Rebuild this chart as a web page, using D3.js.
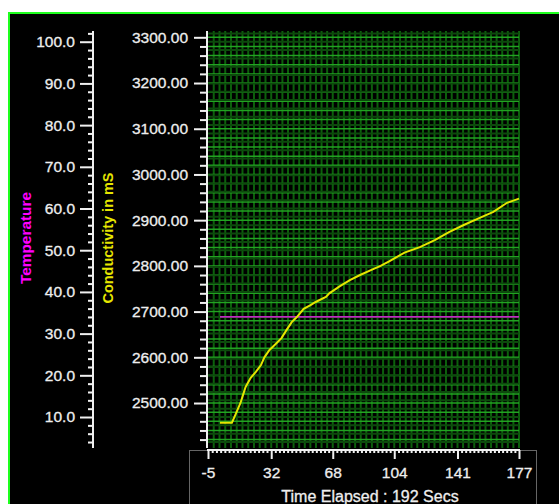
<!DOCTYPE html>
<html>
<head>
  <meta charset="utf-8">
  <script src="https://d3js.org/d3.v7.min.js"></script>
  <style>
    body { margin:0; background:#fff; overflow:hidden; }
    text { font-family: Arial, "Liberation Sans", sans-serif; }
  </style>
</head>
<body>
<script>

// elapsed time (secs) of each reading
const timeSec = [2, 9, 11, 14, 17, 20, 23, 26, 28, 31, 34, 38, 41, 44, 47, 51, 55, 58, 64, 66,
                 72, 78, 84, 90, 96, 101, 110, 119, 128, 136, 145, 154, 162, 170, 177];
// conductivity readings, mS
const conductivity = [2457, 2457, 2474, 2500, 2535, 2555, 2568, 2583, 2600, 2616, 2627, 2642, 2660,
                      2677, 2688, 2706, 2714, 2721, 2732, 2740, 2755, 2769, 2780, 2790, 2800, 2810,
                      2829, 2841, 2857, 2874, 2890, 2905, 2918, 2938, 2947];
// temperature readings
const temperature = [34, 34, 34, 34, 34, 34, 34, 34, 34, 34, 34, 34, 34, 34, 34, 34, 34, 34, 34, 34,
                     34, 34, 34, 34, 34, 34, 34, 34, 34, 34, 34, 34, 34, 34, 34];

const xTicks = [-5, 32, 68, 104, 141, 177];
const condTicks = [2500, 2600, 2700, 2800, 2900, 3000, 3100, 3200, 3300];
const tempTicks = [10, 20, 30, 40, 50, 60, 70, 80, 90, 100];
const elapsedLabel = "Time Elapsed : 192 Secs";

const width = 559, height = 504;
const plot = { left: 207, right: 519, top: 31, bottom: 448 };

const svg = d3.select("body").append("svg")
  .attr("width", width)
  .attr("height", height);

// panel
svg.append("rect")
  .attr("x", 9).attr("y", 13)
  .attr("width", 560).attr("height", 500)
  .attr("fill", "#000")
  .attr("stroke", "#1eff1e")
  .attr("stroke-width", 2);

const x = d3.scaleLinear().domain([-5, 177]).range([208, 519]);
const yCond = d3.scaleLinear().domain([2401.6, 3313.8]).range([plot.bottom, plot.top]);
const yTemp = d3.scaleLinear().domain([2.57, 102.57]).range([plot.bottom, plot.top]);

// minor tick values
const condMinor = d3.range(2420, 3301, 20).filter(v => v % 100 !== 0);
const tempMinor = d3.range(4, 103, 2).filter(v => v % 10 !== 0);
const xMinor = [];
for (let i = 0; i < xTicks.length - 1; i++) {
  for (let k = 1; k < 15; k++) xMinor.push(xTicks[i] + (xTicks[i + 1] - xTicks[i]) * k / 15);
}
const xGrid = [];
for (let i = 0; i < xTicks.length - 1; i++) {
  for (let k = 1; k <= 11; k++) xGrid.push(xTicks[i] + (xTicks[i + 1] - xTicks[i]) * k / 11);
}

// grid
const grid = svg.append("g");
grid.selectAll("line.v").data(xGrid).enter().append("line")
  .attr("class", "v")
  .attr("x1", d => x(d)).attr("x2", d => x(d))
  .attr("y1", plot.top).attr("y2", plot.bottom)
  .attr("stroke", "#0c600c").attr("stroke-width", 2);
grid.selectAll("line.hc").data(d3.range(2420, 3301, 20)).enter().append("line")
  .attr("class", "hc")
  .attr("x1", plot.left).attr("x2", plot.right)
  .attr("y1", d => yCond(d)).attr("y2", d => yCond(d))
  .attr("stroke", "#22a322").attr("stroke-width", 1.5);
grid.selectAll("line.ht").data(d3.range(4, 103, 2)).enter().append("line")
  .attr("class", "ht")
  .attr("x1", plot.left).attr("x2", plot.right)
  .attr("y1", d => yTemp(d)).attr("y2", d => yTemp(d))
  .attr("stroke", "#0d4a0d").attr("stroke-width", 2);

// series
svg.append("path")
  .datum(timeSec.map((t, i) => [t, temperature[i]]))
  .attr("fill", "none")
  .attr("stroke", "#ff22ff")
  .attr("stroke-width", 1.2)
  .attr("d", d3.line().x(d => x(d[0])).y(d => yTemp(d[1])));

svg.append("path")
  .datum(timeSec.map((t, i) => [t, conductivity[i]]))
  .attr("fill", "none")
  .attr("stroke", "#e6e600")
  .attr("stroke-width", 2)
  .attr("d", d3.line().x(d => x(d[0])).y(d => yCond(d[1])));

// axes
function styleAxis(g) {
  g.select(".domain").remove();
  g.selectAll("line").attr("stroke", "#f0f0f0").attr("stroke-width", 2);
  g.selectAll("text").attr("fill", "#eeeeee")
    .attr("stroke", "#eeeeee").attr("stroke-width", 0.3)
    .style("font-size", "15.5px");
}

const tempAxis = svg.append("g").attr("transform", "translate(93,0)");
tempAxis.append("g").call(d3.axisLeft(yTemp).tickValues(tempMinor).tickSize(5).tickFormat(""))
  .call(styleAxis);
tempAxis.append("g").call(d3.axisLeft(yTemp).tickValues(tempTicks).tickSize(13).tickPadding(5)
  .tickFormat(d3.format(".1f"))).call(styleAxis);
tempAxis.append("line").attr("y1", plot.top).attr("y2", plot.bottom)
  .attr("stroke", "#f0f0f0").attr("stroke-width", 2);

const condAxis = svg.append("g").attr("transform", "translate(207,0)");
condAxis.append("g").call(d3.axisLeft(yCond).tickValues(condMinor).tickSize(7).tickFormat(""))
  .call(styleAxis);
condAxis.append("g").call(d3.axisLeft(yCond).tickValues(condTicks).tickSize(13).tickPadding(6)
  .tickFormat(d3.format(".2f"))).call(styleAxis);
condAxis.append("line").attr("y1", plot.top).attr("y2", plot.bottom)
  .attr("stroke", "#f0f0f0").attr("stroke-width", 2);

// x axis box (dotted) and axis
svg.append("rect")
  .attr("x", 189.5).attr("y", 450.5)
  .attr("width", 347).attr("height", 80)
  .attr("fill", "none")
  .attr("stroke", "#cccccc")
  .attr("stroke-dasharray", "1,1");

const xAxis = svg.append("g").attr("transform", "translate(0,450)");
xAxis.append("g").call(d3.axisBottom(x).tickValues(xMinor).tickSize(3).tickFormat(""))
  .call(styleAxis);
xAxis.append("g").call(d3.axisBottom(x).tickValues(xTicks).tickSize(9).tickPadding(8)
  .tickFormat(d => String(d))).call(styleAxis);
xAxis.append("line").attr("x1", 207).attr("x2", 520)
  .attr("stroke", "#f0f0f0").attr("stroke-width", 2);

svg.append("text")
  .attr("x", 370).attr("y", 502)
  .attr("text-anchor", "middle")
  .attr("fill", "#eeeeee")
  .attr("stroke", "#eeeeee").attr("stroke-width", 0.3)
  .style("font-size", "16px")
  .text(elapsedLabel);

// axis titles
svg.append("text")
  .attr("transform", "translate(31,238) rotate(-90)")
  .attr("text-anchor", "middle")
  .attr("fill", "#ff00ff")
  .style("font-size", "15px")
  .style("font-weight", "bold")
  .attr("textLength", 92)
  .attr("lengthAdjust", "spacingAndGlyphs")
  .text("Temperature");

svg.append("text")
  .attr("transform", "translate(113,238) rotate(-90)")
  .attr("text-anchor", "middle")
  .attr("fill", "#e6e600")
  .style("font-size", "15px")
  .style("font-weight", "bold")
  .attr("textLength", 131)
  .attr("lengthAdjust", "spacingAndGlyphs")
  .text("Conductivity in mS");

</script>
</body>
</html>
